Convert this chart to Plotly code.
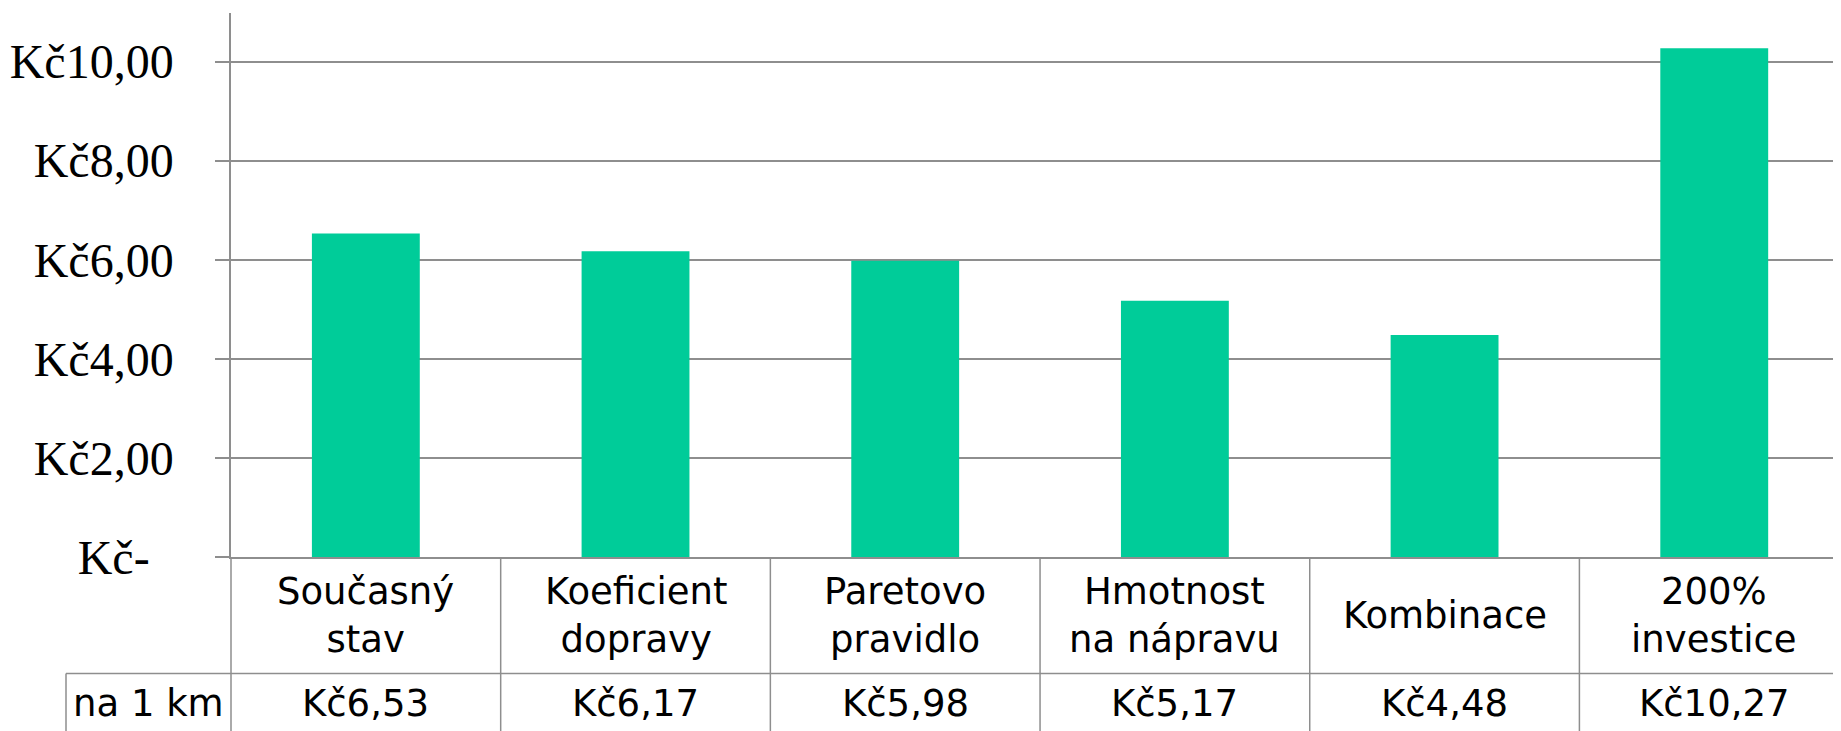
import plotly.graph_objects as go

categories = ["Současný<br>stav", "Koeficient<br>dopravy", "Paretovo<br>pravidlo",
              "Hmotnost<br>na nápravu", "Kombinace", "200%<br>investice"]
values = [6.53, 6.17, 5.98, 5.17, 4.48, 10.27]
value_labels = ["Kč6,53", "Kč6,17", "Kč5,98", "Kč5,17", "Kč4,48", "Kč10,27"]
row_label = "na 1 km"
y_tickvals = [0, 2, 4, 6, 8, 10]
y_ticktext = ["Kč-\u00a0\u00a0", "Kč2,00", "Kč4,00", "Kč6,00", "Kč8,00", "Kč10,00"]

W, H = 1841, 731
OFF = 8  # default body margin of the html page
ML, MR, MT, MB = 231, 0, 13, 174
XMIN, XMAX = -0.5, 5.47
YMIN, YMAX = 0, 10.98
GRID = "#8e8e8e"
BAR = "#00cc99"

plot_h = H - MT - MB
plot_w = W - ML - MR


def px_to_paper_y(py):
    return (H - MB - py) / plot_h


def px_to_paper_x(px):
    return (px - ML) / plot_w


def xdata_to_paper(x):
    return (x - XMIN) / (XMAX - XMIN)


x = list(range(len(categories)))

fig = go.Figure(go.Bar(x=x, y=values, marker=dict(color=BAR, line=dict(width=0)),
                       width=0.4, hoverinfo="skip"))

shapes = []
row1_bottom = px_to_paper_y(673.6)
table_bottom = px_to_paper_y(H + 5)
shapes.append(dict(type="line", xref="paper", yref="paper",
                   x0=px_to_paper_x(66), x1=1.05, y0=row1_bottom, y1=row1_bottom,
                   line=dict(color=GRID, width=1.5)))
for k in range(len(categories) + 1):
    xb = xdata_to_paper(k - 0.5)
    if xb > 1.001:
        continue
    shapes.append(dict(type="line", xref="paper", yref="paper",
                       x0=xb, x1=xb, y0=0, y1=table_bottom,
                       line=dict(color=GRID, width=1.5)))
shapes.append(dict(type="line", xref="paper", yref="paper",
                   x0=px_to_paper_x(66), x1=px_to_paper_x(66), y0=row1_bottom, y1=table_bottom,
                   line=dict(color=GRID, width=1.5)))

annotations = []
cat_y = px_to_paper_y(615)
val_y = px_to_paper_y(703)
cat_font = dict(family="DejaVu Sans", size=37, color="#000000")
for i, (c, v) in enumerate(zip(categories, value_labels)):
    annotations.append(dict(x=i, y=cat_y, xref="x", yref="paper", text=c, showarrow=False,
                            font=cat_font, xanchor="center", yanchor="middle", align="center"))
    annotations.append(dict(x=i, y=val_y, xref="x", yref="paper", text=v, showarrow=False,
                            font=cat_font, xanchor="center", yanchor="middle"))
annotations.append(dict(x=px_to_paper_x(148.5), y=val_y, xref="paper", yref="paper",
                        text=row_label, showarrow=False, font=cat_font,
                        xanchor="center", yanchor="middle"))

fig.update_layout(
    width=W - OFF, height=H - OFF, autosize=False,
    margin=dict(l=ML - OFF, r=MR, t=MT - OFF, b=MB, pad=0),
    paper_bgcolor="white", plot_bgcolor="white",
    showlegend=False,
    xaxis=dict(range=[XMIN, XMAX], showticklabels=False, ticks="", showgrid=False,
               zeroline=False, showline=True, linecolor=GRID, linewidth=1.5, fixedrange=True),
    yaxis=dict(range=[YMIN, YMAX], tickvals=y_tickvals, ticktext=y_ticktext,
               ticks="outside", ticklen=14, tickcolor=GRID, tickwidth=1.5,
               showgrid=True, gridcolor=GRID, gridwidth=1.5, zeroline=False,
               showline=True, linecolor=GRID, linewidth=1.5,
               tickfont=dict(family="Liberation Serif", size=48, color="#000000"),
               ticklabelstandoff=32, fixedrange=True),
    shapes=shapes,
    annotations=annotations,
)

fig.write_html("out.html", config={"displayModeBar": False})
